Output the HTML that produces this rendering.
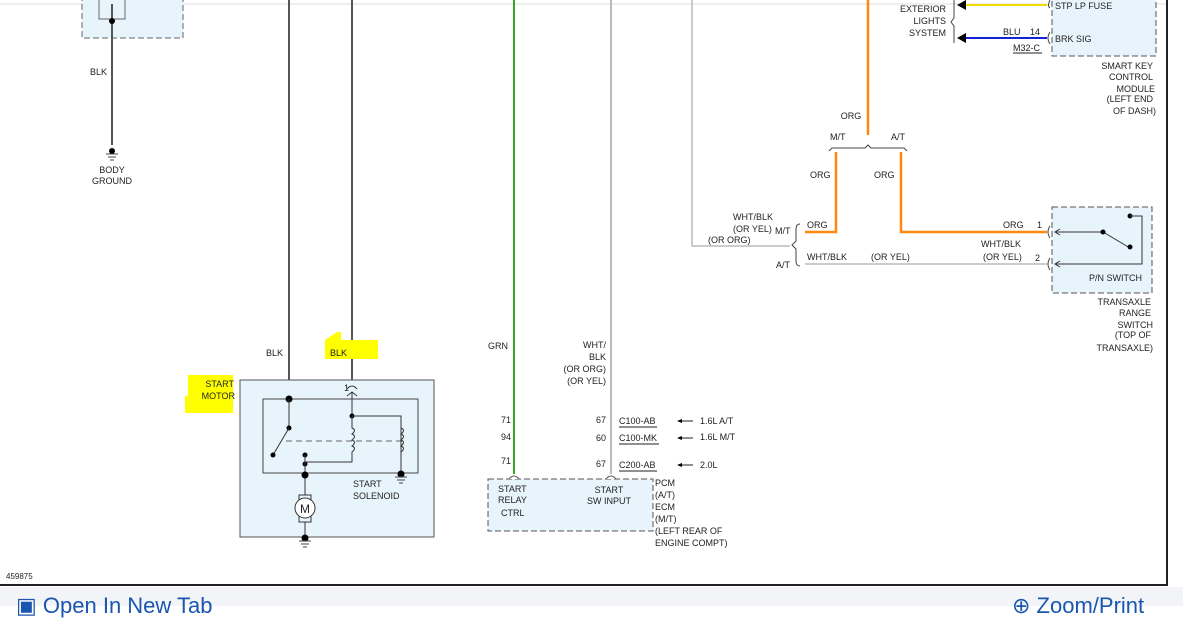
<!DOCTYPE html>
<html><head><meta charset="utf-8"><style>
html,body{margin:0;padding:0;background:#fff;width:1183px;height:606px;overflow:hidden}
svg{position:absolute;left:0;top:0}
text{font-family:"Liberation Sans",sans-serif;font-size:9px;fill:#222}
.bot{position:absolute;left:0;top:587px;width:1183px;height:19px;background:#f2f4f7}
.lnk{position:absolute;top:595px;font-family:"Liberation Sans",sans-serif;font-size:22px;color:#1a56b0;line-height:22px;white-space:nowrap}
</style></head><body>
<div class="bot"></div>
<div class="lnk" style="left:16px">&#9635; Open In New Tab</div>
<div class="lnk" style="left:1012px">&#8853; Zoom/Print</div>
<svg width="1183" height="588" viewBox="0 0 1183 588">
<line x1="0" y1="4" x2="1167" y2="4" stroke="#ddd"/>
<line x1="1167" y1="0" x2="1167" y2="585" stroke="#222" stroke-width="2"/>
<line x1="0" y1="585" x2="1168" y2="585" stroke="#222" stroke-width="2"/>
<rect x="82" y="-2" width="101" height="40" fill="#e8f4fb" stroke="#666" stroke-dasharray="6,3"/>
<rect x="99" y="-2" width="26" height="21" fill="#e8f4fb" stroke="#666"/>
<line x1="112" y1="4" x2="112" y2="145" stroke="#555" stroke-width="2"/>
<circle cx="112" cy="21" r="3"/>
<circle cx="112" cy="151" r="3"/>
<path d="M106 154h12M108 157h8M110 160h4" stroke="#444"/>
<text x="90" y="75">BLK</text>
<text x="112" y="173" text-anchor="middle">BODY</text>
<text x="112" y="184" text-anchor="middle">GROUND</text>
<line x1="289" y1="0" x2="289" y2="399" stroke="#555" stroke-width="2"/>
<line x1="352" y1="0" x2="352" y2="383" stroke="#555" stroke-width="2"/>
<text x="266" y="356">BLK</text>
<path d="M325 340l12-8h4v8h37v19h-53z" fill="#ffff00"/>
<text x="330" y="356">BLK</text>
<path d="M188 375h45v38h-48v-17h3z" fill="#ffff00"/>
<text x="234" y="387" text-anchor="end">START</text>
<text x="235" y="399" text-anchor="end">MOTOR</text>
<rect x="240" y="380" width="194" height="157" fill="#e8f4fb" stroke="#555"/>
<rect x="263" y="399" width="155" height="74" fill="none" stroke="#444"/>
<text x="344" y="391">1</text>
<path d="M347 389q5-6 10 0M347 396l5-4l5 4" fill="none" stroke="#333"/>
<line x1="352" y1="392" x2="352" y2="416" stroke="#333"/>
<circle cx="289" cy="399" r="3.5"/>
<line x1="289" y1="399" x2="289" y2="428" stroke="#333"/>
<circle cx="289" cy="428" r="2.5"/>
<line x1="289" y1="428" x2="273" y2="455" stroke="#333"/>
<circle cx="273" cy="455" r="2.5"/>
<line x1="286" y1="441" x2="402" y2="441" stroke="#666" stroke-dasharray="6,4"/>
<circle cx="352" cy="416" r="2.5"/>
<path d="M352 416H401V473" fill="none" stroke="#333"/>
<path d="M352 416v12q5 2 0 6q5 2 0 6q5 2 0 6q5 2 0 6v10H305" fill="none" stroke="#333"/>
<path d="M401 428q5 2 0 6q5 2 0 6q5 2 0 6q5 2 0 6" fill="none" stroke="#333"/>
<circle cx="305" cy="455" r="2.5"/>
<circle cx="305" cy="464" r="2.5"/>
<line x1="305" y1="455" x2="305" y2="495" stroke="#333"/>
<circle cx="305" cy="475" r="3.5"/>
<circle cx="401" cy="474" r="3.5"/>
<path d="M395 477h12M397 480h8M399 483h4" stroke="#444"/>
<rect x="299" y="495" width="12" height="27" fill="#e8f4fb" stroke="#333"/>
<circle cx="305" cy="508" r="10" fill="#fff" stroke="#333"/>
<text x="305" y="513" text-anchor="middle" style="font-size:12px">M</text>
<line x1="305" y1="522" x2="305" y2="538" stroke="#333"/>
<circle cx="305" cy="538" r="3.5"/>
<path d="M299 541h12M301 544h8M303 547h4" stroke="#444"/>
<text x="353" y="487">START</text>
<text x="353" y="499">SOLENOID</text>
<line x1="514" y1="0" x2="514" y2="474" stroke="#33aa22" stroke-width="2"/>
<line x1="611" y1="0" x2="611" y2="474" stroke="#bbb" stroke-width="2"/>
<text x="488" y="349">GRN</text>
<text x="606" y="348" text-anchor="end">WHT/</text>
<text x="606" y="360" text-anchor="end">BLK</text>
<text x="606" y="372" text-anchor="end">(OR ORG)</text>
<text x="606" y="384" text-anchor="end">(OR YEL)</text>
<text x="511" y="423" text-anchor="end">71</text>
<text x="511" y="440" text-anchor="end">94</text>
<text x="511" y="464" text-anchor="end">71</text>
<text x="606" y="423" text-anchor="end">67</text>
<text x="606" y="441" text-anchor="end">60</text>
<text x="606" y="467" text-anchor="end">67</text>
<text x="619" y="424">C100-AB</text><line x1="619" y1="427" x2="657" y2="427" stroke="#222"/>
<text x="619" y="441">C100-MK</text><line x1="619" y1="444" x2="659" y2="444" stroke="#222"/>
<text x="619" y="468">C200-AB</text><line x1="619" y1="471" x2="657" y2="471" stroke="#222"/>
<path d="M678 421h15M678 438h15M678 465h15" stroke="#222"/>
<path d="M677 421l5-2v4zM677 438l5-2v4zM677 465l5-2v4z"/>
<text x="700" y="424">1.6L A/T</text>
<text x="700" y="440">1.6L M/T</text>
<text x="700" y="468">2.0L</text>
<rect x="488" y="479" width="165" height="52" fill="#e8f4fb" stroke="#555" stroke-dasharray="6,3"/>
<path d="M509 479q5-6 10 0M606 479q5-6 10 0" fill="#fff" stroke="#555"/>
<text x="498" y="492">START</text>
<text x="498" y="503">RELAY</text>
<text x="501" y="516">CTRL</text>
<text x="609" y="493" text-anchor="middle">START</text>
<text x="609" y="504" text-anchor="middle">SW INPUT</text>
<text x="655" y="486">PCM</text>
<text x="655" y="498">(A/T)</text>
<text x="655" y="510">ECM</text>
<text x="655" y="522">(M/T)</text>
<text x="655" y="534">(LEFT REAR OF</text>
<text x="655" y="546">ENGINE COMPT)</text>
<polyline points="692,0 692,246 790,246" fill="none" stroke="#bbb" stroke-width="1.5"/>
<line x1="868" y1="0" x2="868" y2="135" stroke="#ff8811" stroke-width="2.5"/>
<path d="M829 151l3-3h33l3-3l3 3h33l3 3" fill="none" stroke="#444"/>
<text x="830" y="140">M/T</text>
<text x="891" y="140">A/T</text>
<text x="851" y="119" text-anchor="middle">ORG</text>
<text x="810" y="178">ORG</text>
<text x="874" y="178">ORG</text>
<polyline points="836,152 836,232 805,232" fill="none" stroke="#ff8811" stroke-width="2.5"/>
<polyline points="901,152 901,232 1047,232" fill="none" stroke="#ff8811" stroke-width="2.5"/>
<line x1="805" y1="264" x2="1047" y2="264" stroke="#999"/>
<path d="M800 224q-4 0-4 5v12l-4 4l4 4v12q0 5 4 5" fill="none" stroke="#444"/>
<text x="753" y="220" text-anchor="middle">WHT/BLK</text>
<text x="733" y="232">(OR YEL)</text>
<text x="708" y="243">(OR ORG)</text>
<text x="775" y="234">M/T</text>
<text x="776" y="268">A/T</text>
<text x="807" y="228">ORG</text>
<text x="807" y="260">WHT/BLK</text>
<text x="871" y="260">(OR YEL)</text>
<text x="1003" y="228">ORG</text>
<text x="1037" y="228">1</text>
<text x="981" y="247">WHT/BLK</text>
<text x="983" y="260">(OR YEL)</text>
<text x="1035" y="261">2</text>
<rect x="1052" y="207" width="100" height="86" fill="#e8f4fb" stroke="#555" stroke-dasharray="6,3"/>
<path d="M1050 226q-4 6 0 12M1050 258q-4 6 0 12" fill="none" stroke="#444"/>
<polyline points="1055,232 1103,232 1130,248" fill="none" stroke="#333"/>
<circle cx="1103" cy="232" r="2.5"/><circle cx="1130" cy="247" r="2.5"/><circle cx="1130" cy="216" r="2.5"/>
<polyline points="1130,216 1142,216 1142,264 1055,264" fill="none" stroke="#333"/>
<path d="M1060 229l-5 3l5 3M1060 261l-5 3l5 3" fill="none" stroke="#333"/>
<text x="1089" y="281">P/N SWITCH</text>
<text x="1151" y="305" text-anchor="end">TRANSAXLE</text>
<text x="1151" y="316" text-anchor="end">RANGE</text>
<text x="1153" y="328" text-anchor="end">SWITCH</text>
<text x="1151" y="338" text-anchor="end">(TOP OF</text>
<text x="1153" y="351" text-anchor="end">TRANSAXLE)</text>
<rect x="1052" y="-2" width="104" height="58" fill="#e8f4fb" stroke="#555" stroke-dasharray="6,3"/>
<line x1="965" y1="5" x2="1047" y2="5" stroke="#eedd00" stroke-width="2"/>
<line x1="965" y1="38" x2="1047" y2="38" stroke="#1122dd" stroke-width="2"/>
<path d="M957 38l9-5v10zM957 5l9-5v10z"/>
<path d="M954 0v18l-3 4l3 4v17M1050 0q-3 6 0 8M1050 32q-4 6 0 12" fill="none" stroke="#444"/>
<text x="946" y="12" text-anchor="end">EXTERIOR</text>
<text x="946" y="24" text-anchor="end">LIGHTS</text>
<text x="946" y="36" text-anchor="end">SYSTEM</text>
<text x="1003" y="35">BLU</text>
<text x="1030" y="35">14</text>
<text x="1013" y="51">M32-C</text><line x1="1013" y1="53" x2="1042" y2="53" stroke="#222"/>
<text x="1055" y="9">STP LP FUSE</text>
<text x="1055" y="42">BRK SIG</text>
<text x="1153" y="69" text-anchor="end">SMART KEY</text>
<text x="1153" y="80" text-anchor="end">CONTROL</text>
<text x="1155" y="92" text-anchor="end">MODULE</text>
<text x="1153" y="102" text-anchor="end">(LEFT END</text>
<text x="1156" y="114" text-anchor="end">OF DASH)</text>
<text x="6" y="579" style="font-size:8px">459875</text>
</svg>
</body></html>
